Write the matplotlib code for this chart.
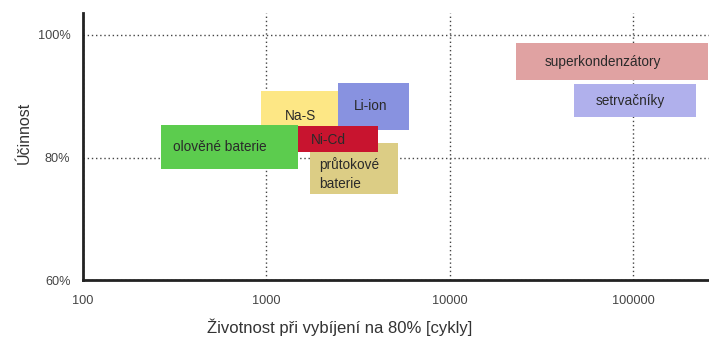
import numpy as np
import matplotlib
matplotlib.use("Agg")
import matplotlib.pyplot as plt
from matplotlib.ticker import FixedLocator, FixedFormatter

plt.rcParams["font.family"] = ["Liberation Sans", "DejaVu Sans"]

# technology ranges: cycle life (min, max) and efficiency in % (min, max)
names = ["průtokové\nbaterie", "Na-S", "Li-ion", "Ni-Cd", "olověné baterie",
         "superkondenzátory", "setrvačníky"]
cycles_min = [1730, 940, 2470, 1480, 267, 22950, 47700]
cycles_max = [5250, 2500, 6040, 4070, 1490, 255800, 221800]
eff_min = [74.1, 84.0, 84.5, 80.9, 78.2, 92.7, 86.6]
eff_max = [82.4, 90.8, 92.2, 85.2, 85.3, 98.7, 92.0]
colors = ["#dccd85", "#fde785", "#8892e0", "#c8142f", "#5ccc4e",
          "#e0a2a2", "#b0b0ec"]

x_ticks = [100, 1000, 10000, 100000]
x_labels = ["100", "1000", "10000", "100000"]
y_ticks = [60, 80, 100]
y_labels = ["60%", "80%", "100%"]

# where each name is written (cycles, efficiency, horizontal alignment)
label_pos = [(1950, 77.3, "left"), (1535, 86.7, "center"), (3700, 88.4, "center"),
             (2170, 82.9, "center"), (561, 81.8, "center"),
             (68500, 95.6, "center"), (96400, 89.2, "center")]

fig = plt.figure(figsize=(7.09, 3.38), dpi=100)
ax = fig.add_axes([0.117, 0.171, 0.883, 0.791])
ax.set_xscale("log")
ax.set_xlim(100, 260000)
ax.set_ylim(60, 103.6)

# dotted grid at the decades and at 80/100 %
ax.xaxis.set_major_locator(FixedLocator(x_ticks))
ax.xaxis.set_major_formatter(FixedFormatter(x_labels))
ax.xaxis.set_minor_locator(FixedLocator([]))
ax.yaxis.set_major_locator(FixedLocator(y_ticks))
ax.yaxis.set_major_formatter(FixedFormatter(y_labels))
ax.grid(True, linestyle=(0, (1, 2)), color="#444444", linewidth=1.0)
ax.set_axisbelow(True)

for i in range(len(names)):
    ax.barh(eff_min[i], cycles_max[i] - cycles_min[i], left=cycles_min[i],
            height=eff_max[i] - eff_min[i], align="edge", color=colors[i],
            linewidth=0, zorder=2 + i)
    lx, ly, ha = label_pos[i]
    ax.text(lx, ly, names[i], ha=ha, va="center", fontsize=9.8, color="#2a2a2a",
            linespacing=1.4, zorder=20)

for side in ["top", "right"]:
    ax.spines[side].set_visible(False)
for side in ["left", "bottom"]:
    ax.spines[side].set_linewidth(2.0)
    ax.spines[side].set_color("#222222")
    ax.spines[side].set_zorder(30)

ax.tick_params(length=0, labelsize=9.2, colors="#444444")
ax.tick_params(axis="x", pad=11)
ax.tick_params(axis="y", pad=9)

ax.set_xlabel("Životnost při vybíjení na 80% [cykly]", fontsize=12, color="#333333")
ax.xaxis.set_label_coords(0.41, -0.145)
ax.set_ylabel("Účinnost", fontsize=11.5, color="#333333")
ax.yaxis.set_label_coords(-0.082, 0.55)

fig.savefig("out.png", dpi=100)
